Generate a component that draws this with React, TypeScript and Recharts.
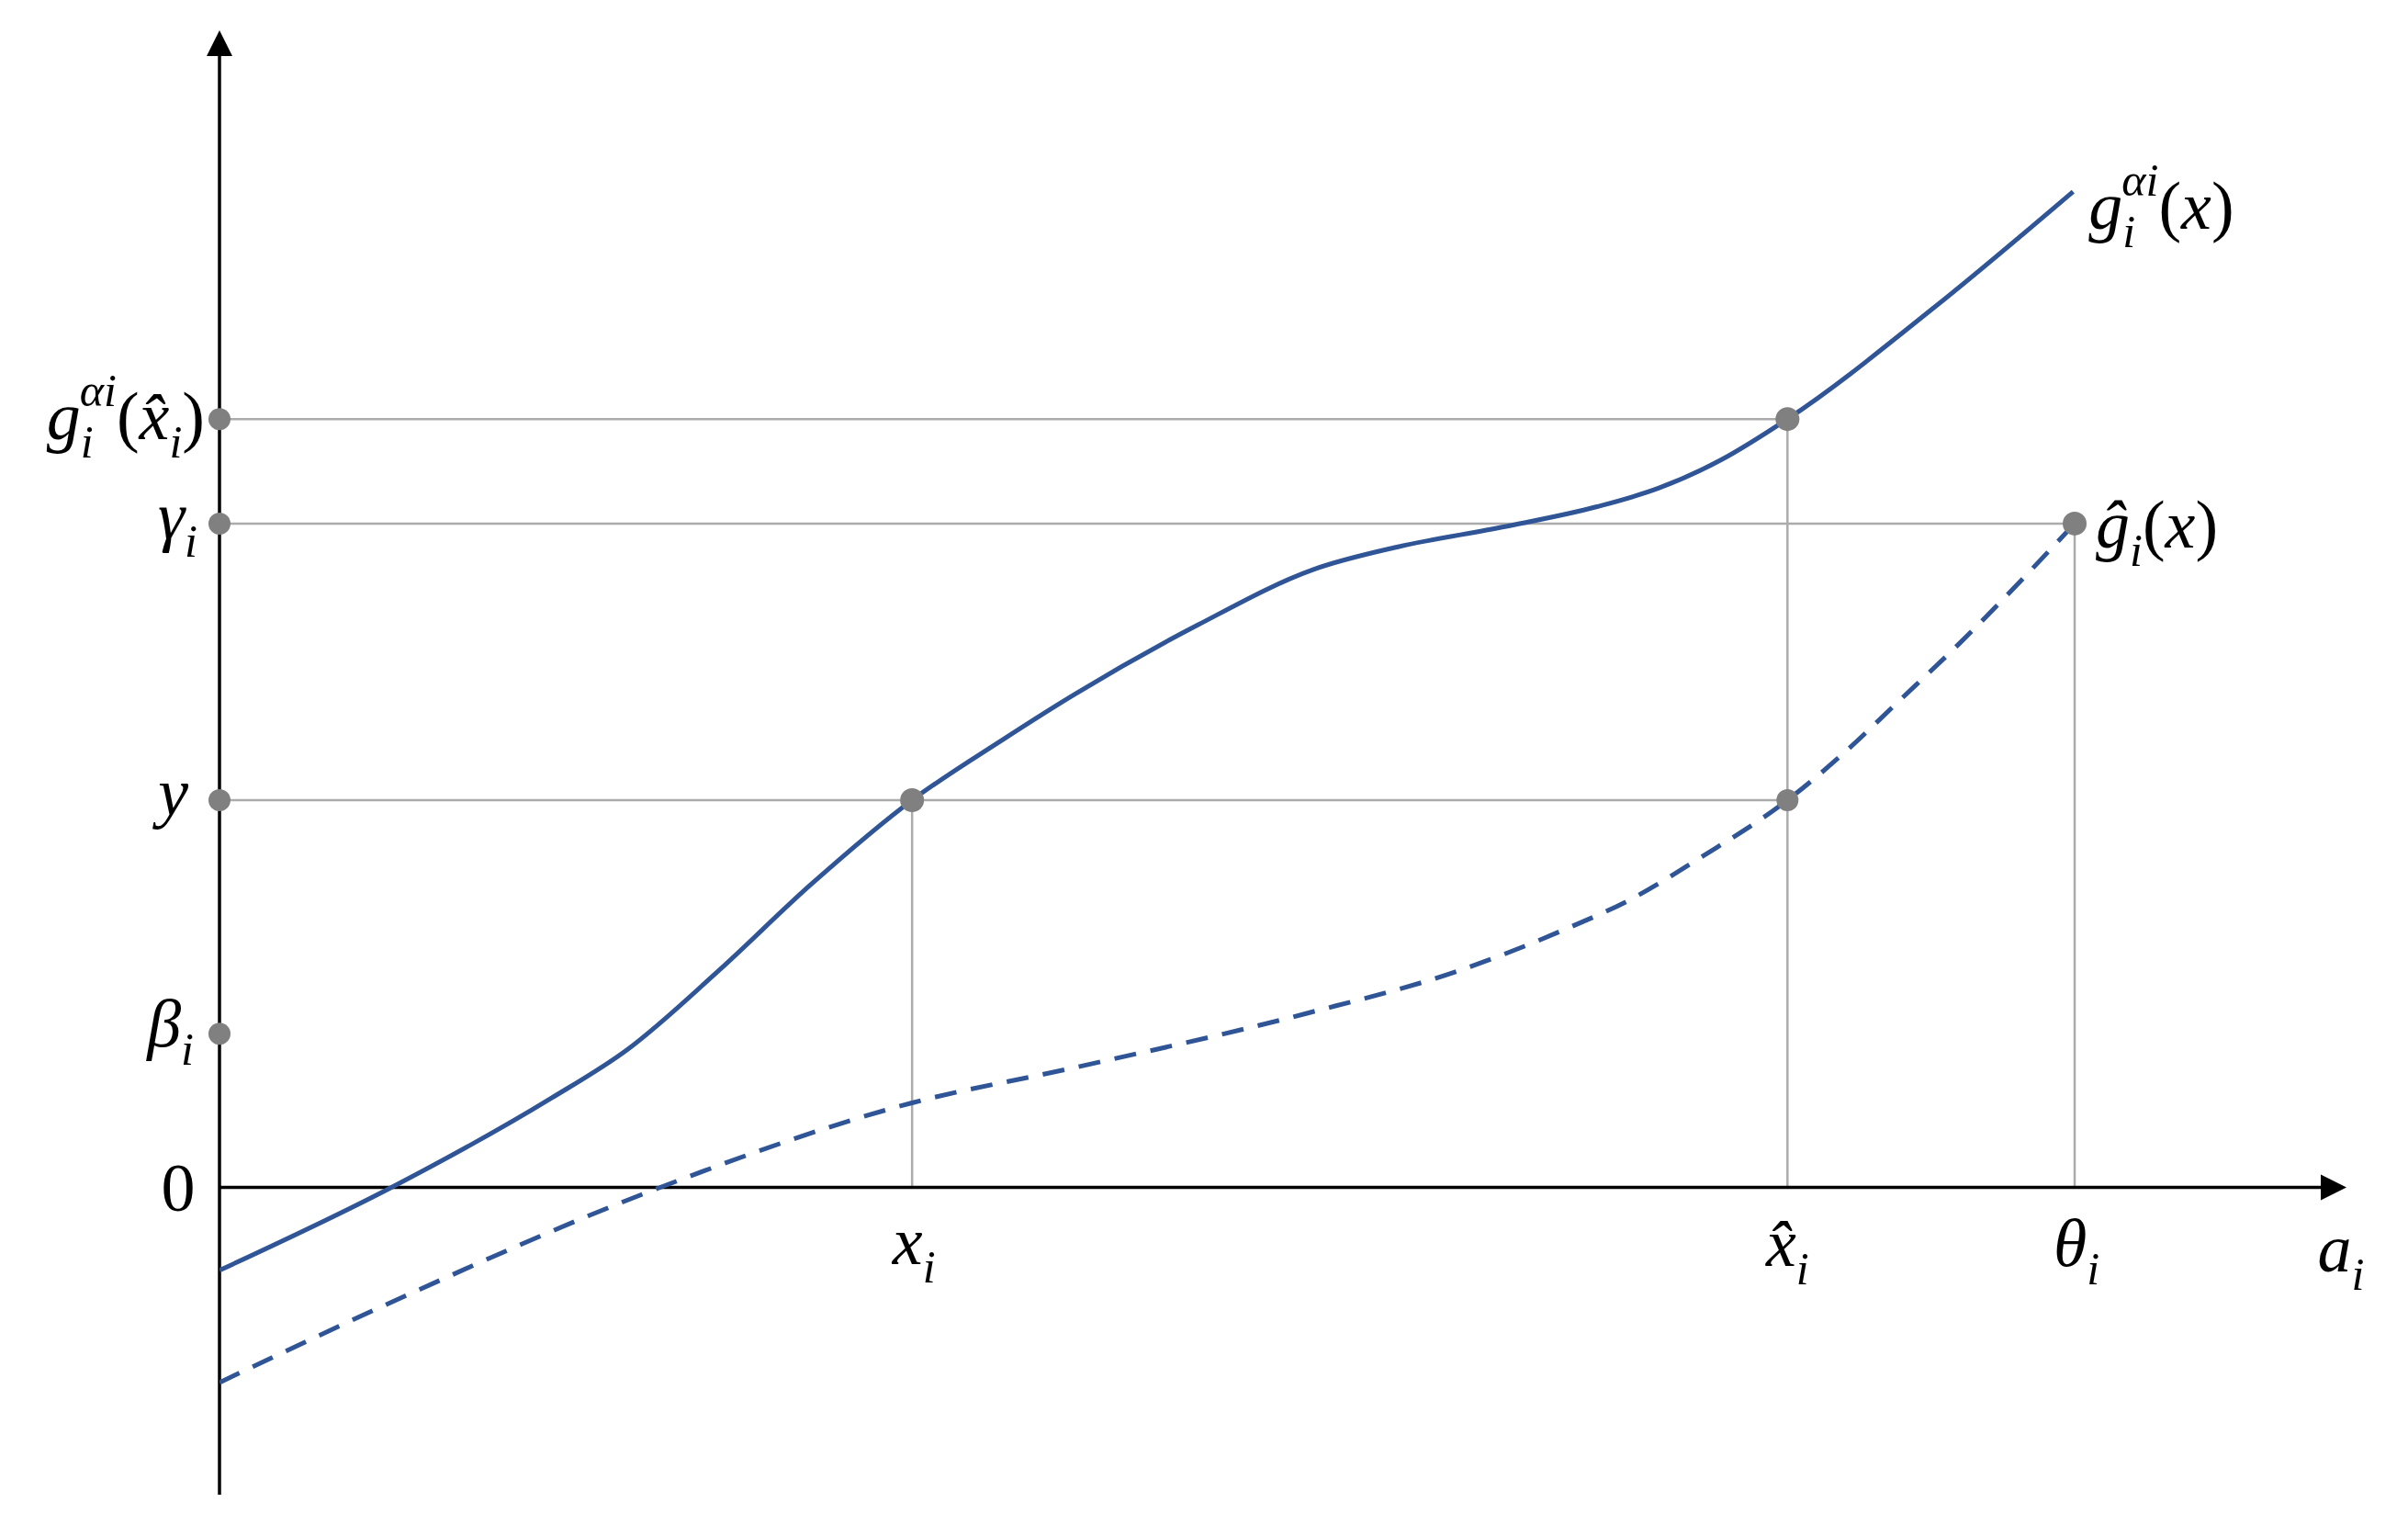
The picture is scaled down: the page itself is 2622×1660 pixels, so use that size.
import React from "react"
import { ComposedChart, Line, XAxis, YAxis, ReferenceLine, ReferenceDot } from "recharts"

const W = 2622
const H = 1660

// chart units, origin where the two axes cross
const solidX = [0, 112, 216, 266, 325, 385, 451, 511, 557, 637, 712, 768, 837, 897, 937, 977, 1021, 1117, 1207]
const solidY = [-54, 0, 58, 90, 141, 197, 252, 292, 321, 366, 402, 417, 430, 443, 455, 473, 500, 573, 648]
const dashX = [0, 107, 287, 451, 557, 707, 807, 874, 920, 965, 1021, 1057, 1092, 1133, 1208]
const dashY = [-127, -77, 0, 55, 78, 113, 141, 167, 188, 215, 252, 282, 315, 354, 432]

const xi = 451
const xHat = 1021
const theta = 1208
const yLevel = 252
const gamma = 432
const beta = 100
const gHat = 500

const xMax = 1385
const yMin = -200
const yMax = 753

const solidData = solidX.map((x, i) => ({ x, y: solidY[i] }))
const dashData = dashX.map((x, i) => ({ x, y: dashY[i] }))

const BLUE = "#2f5597"
const GRID = "#ababab"
const DOT = "#808080"
const FONT = "Liberation Serif, DejaVu Serif, serif"
const F = 74
const S = 50

type Part = [string, "n" | "u" | "sub" | "sup", number?]

function MathText({ x, y, anchor = "start", parts }: { x: number; y: number; anchor?: string; parts: Part[] }) {
  let cur = 0
  return (
    <text x={x} y={y} textAnchor={anchor as any} style={{ fontFamily: FONT }} fontSize={F} fill="#000">
      {parts.map(([t, k, dx], i) => {
        const shift = k === "sub" ? 20 : k === "sup" ? -36 : 0
        const dy = shift - cur
        cur = shift
        return (
          <tspan key={i} dy={dy} dx={dx ?? 0} fontSize={k === "sub" || k === "sup" ? S : F} fontStyle={k === "u" ? "normal" : "italic"}>
            {t}
          </tspan>
        )
      })}
    </text>
  )
}

const label = (parts: Part[], dx: number, dy: number, anchor = "start") => (p: any) =>
  <MathText x={p.cx + dx} y={p.cy + dy} anchor={anchor} parts={parts} />

function axisShape(p: any) {
  const { x1, y1, x2, y2 } = p
  const a = Math.atan2(y2 - y1, x2 - x1)
  const L = 28
  const hw = 14
  const bx = x2 - L * Math.cos(a)
  const by = y2 - L * Math.sin(a)
  const pts = [
    [x2, y2],
    [bx - hw * Math.sin(a), by + hw * Math.cos(a)],
    [bx + hw * Math.sin(a), by - hw * Math.cos(a)],
  ]
  return (
    <g>
      <line x1={x1} y1={y1} x2={bx} y2={by} stroke="#000" strokeWidth={3.5} />
      <polygon points={pts.map((q) => q.join(",")).join(" ")} fill="#000" />
    </g>
  )
}

const gAlpha: Part[] = [["g", "n"], ["i", "sub"], ["α", "sup", -15], ["i", "sup"]]

export default function App() {
  return (
    <div style={{ position: "absolute", left: 0, top: 0, width: W, height: H, background: "#fff" }}>
      <ComposedChart width={W} height={H} margin={{ top: 33, right: W - 2555, bottom: H - 1627, left: 239 }}>
        <XAxis type="number" dataKey="x" domain={[0, xMax]} allowDataOverflow hide />
        <YAxis type="number" dataKey="y" domain={[yMin, yMax]} allowDataOverflow hide />

        {/* gray guide lines */}
        <ReferenceLine ifOverflow="visible" segment={[{ x: 0, y: gHat }, { x: xHat, y: gHat }]} stroke={GRID} strokeWidth={2.5} />
        <ReferenceLine ifOverflow="visible" segment={[{ x: 0, y: gamma }, { x: theta, y: gamma }]} stroke={GRID} strokeWidth={2.5} />
        <ReferenceLine ifOverflow="visible" segment={[{ x: 0, y: yLevel }, { x: xHat, y: yLevel }]} stroke={GRID} strokeWidth={2.5} />
        <ReferenceLine ifOverflow="visible" segment={[{ x: xi, y: 0 }, { x: xi, y: yLevel }]} stroke={GRID} strokeWidth={2.5} />
        <ReferenceLine ifOverflow="visible" segment={[{ x: xHat, y: 0 }, { x: xHat, y: gHat }]} stroke={GRID} strokeWidth={2.5} />
        <ReferenceLine ifOverflow="visible" segment={[{ x: theta, y: 0 }, { x: theta, y: gamma }]} stroke={GRID} strokeWidth={2.5} />

        {/* axes with arrow heads */}
        <ReferenceLine ifOverflow="visible" segment={[{ x: 0, y: 0 }, { x: xMax, y: 0 }]} shape={axisShape} />
        <ReferenceLine ifOverflow="visible" segment={[{ x: 0, y: yMin }, { x: 0, y: yMax }]} shape={axisShape} />

        <Line data={dashData} dataKey="y" type="monotone" stroke={BLUE} strokeWidth={5} strokeDasharray="24 16" dot={false} isAnimationActive={false} />
        <Line data={solidData} dataKey="y" type="monotone" stroke={BLUE} strokeWidth={5} dot={false} isAnimationActive={false} />

        {/* gray points */}
        <ReferenceDot x={0} y={gHat} r={12} fill={DOT} stroke="none" ifOverflow="visible" />
        <ReferenceDot x={0} y={gamma} r={12} fill={DOT} stroke="none" ifOverflow="visible" />
        <ReferenceDot x={0} y={yLevel} r={12} fill={DOT} stroke="none" ifOverflow="visible" />
        <ReferenceDot x={0} y={beta} r={12} fill={DOT} stroke="none" ifOverflow="visible" />
        <ReferenceDot x={xi} y={yLevel} r={13} fill={DOT} stroke="none" ifOverflow="visible" />
        <ReferenceDot x={xHat} y={gHat} r={13} fill={DOT} stroke="none" ifOverflow="visible" />
        <ReferenceDot x={xHat} y={yLevel} r={12} fill={DOT} stroke="none" ifOverflow="visible" />
        <ReferenceDot x={theta} y={gamma} r={13} fill={DOT} stroke="none" ifOverflow="visible" />

        {/* y-side labels */}
        <ReferenceDot x={0} y={gHat} r={1} ifOverflow="visible" shape={label([...gAlpha, ["(", "u"], ["x̂", "n"], ["i", "sub"], [")", "u"]], -16, 22, "end")} />
        <ReferenceDot x={0} y={gamma} r={1} ifOverflow="visible" shape={label([["γ", "n"], ["i", "sub"]], -24, 16, "end")} />
        <ReferenceDot x={0} y={yLevel} r={1} ifOverflow="visible" shape={label([["y", "n"]], -34, 16, "end")} />
        <ReferenceDot x={0} y={beta} r={1} ifOverflow="visible" shape={label([["β", "n"], ["i", "sub"]], -28, 14, "end")} />
        <ReferenceDot x={0} y={0} r={1} ifOverflow="visible" shape={label([["0", "u"]], -45, 26, "middle")} />

        {/* x-side labels */}
        <ReferenceDot x={xi} y={0} r={1} ifOverflow="visible" shape={label([["x", "n"], ["i", "sub"]], 2, 84, "middle")} />
        <ReferenceDot x={xHat} y={0} r={1} ifOverflow="visible" shape={label([["x̂", "n"], ["i", "sub"]], 0, 86, "middle")} />
        <ReferenceDot x={theta} y={0} r={1} ifOverflow="visible" shape={label([["θ", "n"], ["i", "sub"]], 2, 86, "middle")} />
        <ReferenceDot x={xMax} y={0} r={1} ifOverflow="visible" shape={label([["a", "n"], ["i", "sub"]], -6, 92, "middle")} />

        {/* curve labels */}
        <ReferenceDot x={1207} y={648} r={1} ifOverflow="visible" shape={label([...gAlpha, ["(", "u"], ["x", "n"], [")", "u"]], 17, 40)} />
        <ReferenceDot x={theta} y={gamma} r={1} ifOverflow="visible" shape={label([["ĝ", "n"], ["i", "sub"], ["(", "u"], ["x", "n"], [")", "u"]], 23, 26)} />
      </ComposedChart>
    </div>
  )
}
